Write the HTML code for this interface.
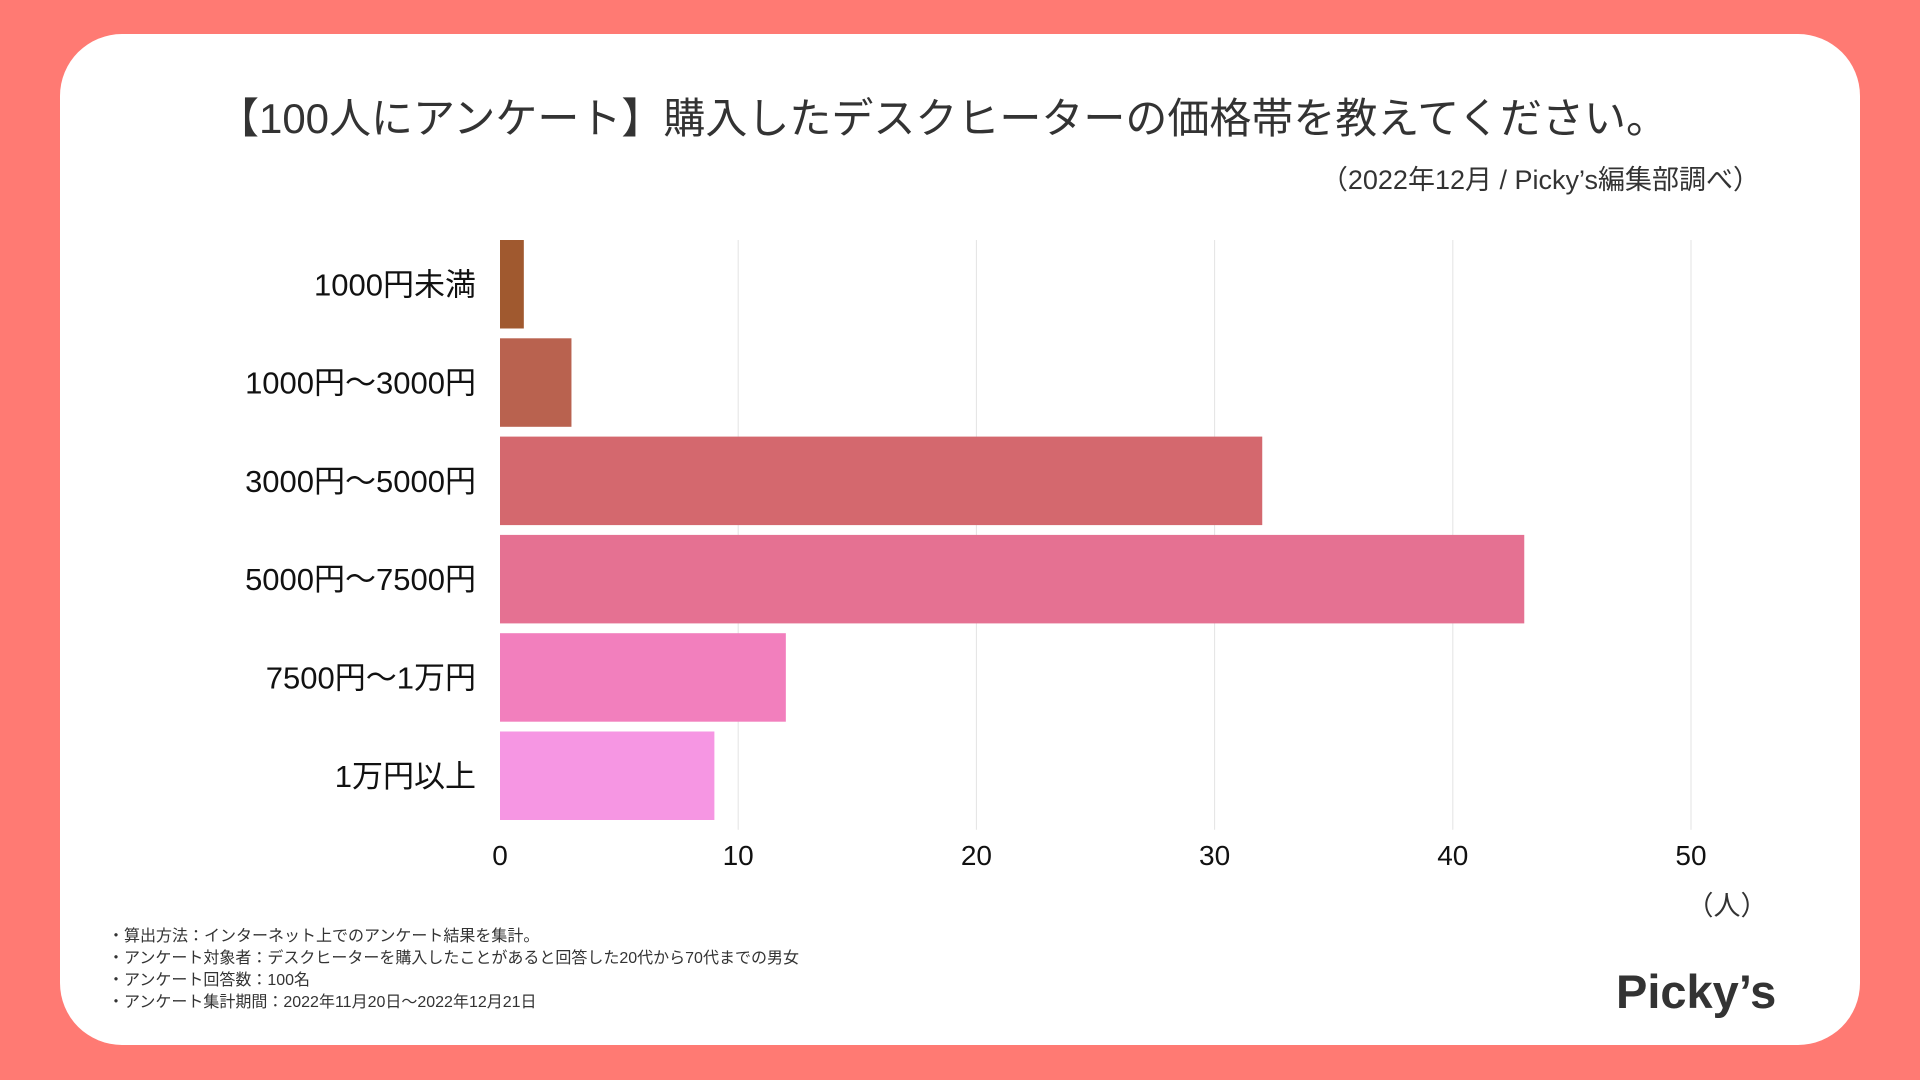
<!DOCTYPE html>
<html><head><meta charset="utf-8"><style>
body{margin:0;width:1920px;height:1080px;background:#ff7a73;position:relative;overflow:hidden;font-family:"Liberation Sans","Noto Sans CJK JP",sans-serif;color:#222}
#card{position:absolute;left:60px;top:34px;width:1800px;height:1011px;background:#fff;border-radius:62px}
.abs{position:absolute;white-space:nowrap}
</style></head><body>
<div id="card"></div>
<div class="abs" style="left:0;width:1920px;text-align:center;top:85px;font-size:42px;color:#333;padding-right:35px;box-sizing:border-box">【100人にアンケート】購入したデスクヒーターの価格帯を教えてください。</div>
<div class="abs" style="right:160px;top:158px;font-size:27px;color:#333">（2022年12月 / Picky’s編集部調べ）</div>
<svg class="abs" style="left:0;top:0" width="1920" height="1080" id="chart"></svg>
<div class="abs" style="left:108px;top:926px;font-size:16px;line-height:22px;color:#333">・算出方法：インターネット上でのアンケート結果を集計。<br>・アンケート対象者：デスクヒーターを購入したことがあると回答した20代から70代までの男女<br>・アンケート回答数：100名<br>・アンケート集計期間：2022年11月20日〜2022年12月21日</div>
<div class="abs" style="left:1616px;top:964px;font-size:47px;font-weight:bold;color:#333;letter-spacing:0px">Picky’s</div>
<script>
const categories=["1000円未満","1000円〜3000円","3000円〜5000円","5000円〜7500円","7500円〜1万円","1万円以上"];
const values=[1,3,32,43,12,9];
const ticks=[0,10,20,30,40,50];
const colors=["#a0592f","#b9624f","#d4686e","#e57192","#f27fbd","#f696e3"];
const svg=document.getElementById('chart');
const NS="http://www.w3.org/2000/svg";
const x0=500,x1=1691,xmax=50,top0=240,band=98.3,barH=88.5;
const xs=v=>x0+(x1-x0)*v/xmax;
function mk(t,a){const e=document.createElementNS(NS,t);for(const k in a)e.setAttribute(k,a[k]);svg.appendChild(e);return e;}
ticks.forEach(t=>{
 if(t>0){const l=mk('line',{x1:xs(t),x2:xs(t),y1:top0,y2:top0+band*6,stroke:'#e3e3e3','stroke-width':1});
 
 }
 const tx=mk('text',{x:xs(t),y:865,'text-anchor':'middle','font-size':28,fill:'#111'});
 tx.textContent=t;
 
 
});
categories.forEach((c,i)=>{
 const y=top0+band*i;
 const r=mk('rect',{x:x0,y:y,width:xs(values[i])-x0,height:barH,fill:colors[i]});
 
 
 const t=mk('text',{x:476,y:y+barH/2+11,'text-anchor':'end','font-size':31,fill:'#111'});
 t.textContent=c;
 
 
});
const u=mk('text',{x:1727,y:915,'text-anchor':'middle','font-size':27,fill:'#333'});
u.textContent='（人）';


</script>
</body></html>
